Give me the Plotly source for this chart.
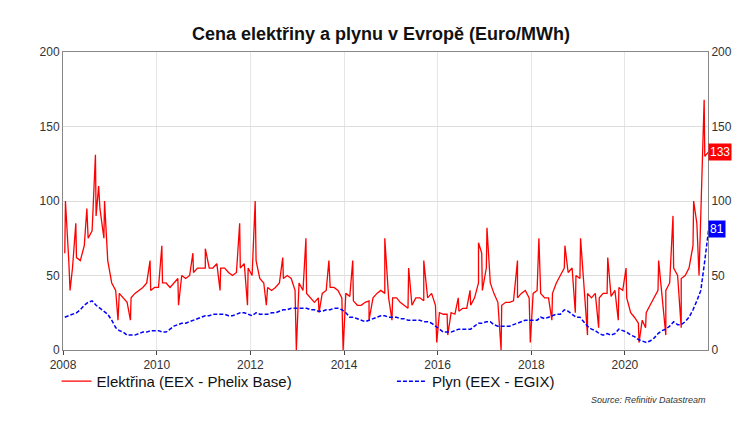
import pandas as pd
import plotly.graph_objects as go

elec = [65,60,55,62,60,70,75,80,90,95,75,60,
        45,40,38,35,32,35,38,40,42,45,40,42,
        42,45,45,42,45,48,50,48,50,52,55,55,
        55,55,55,58,55,55,52,50,52,55,58,55,
        50,60,48,45,42,40,42,45,48,50,48,40,
        45,40,38,35,32,35,38,40,42,42,40,35,
        38,36,33,30,30,32,33,35,38,40,38,35,
        35,35,32,30,28,30,35,35,33,35,38,30,
        25,24,24,25,24,26,28,28,30,35,45,40,
        55,45,38,32,30,32,32,33,35,38,40,35,
        38,40,38,35,35,38,45,50,55,52,55,50,
        48,45,38,35,38,35,38,38,36,40,42,40,
        35,25,22,18,20,25,30,35,40,38,40,45,
        55,50,48,50,55,70,85,90,130,133]
gas = [22,23,24,25,27,30,32,33,30,28,26,24,
       20,15,13,12,10,10,10,11,12,12,13,13,
       13,12,12,14,16,17,18,18,19,20,21,22,
       23,23,24,24,24,24,23,23,24,25,25,24,
       23,25,24,24,24,25,25,26,27,27,28,28,
       28,28,28,27,27,26,26,27,27,28,28,27,
       25,22,22,21,20,19,20,21,22,23,23,22,
       22,22,21,21,20,20,20,20,19,19,18,16,
       14,12,12,12,13,14,14,14,14,16,18,18,
       19,19,17,16,16,16,16,17,18,19,20,20,
       20,20,22,21,22,23,24,24,27,26,24,22,
       22,19,16,14,13,11,10,11,10,11,14,13,
       12,10,9,7,6,5,6,8,11,13,14,16,
       19,17,17,19,22,27,33,40,60,81]
spike_dates = ["2008-01-20","2008-02-25","2008-04-10","2008-07-05","2008-09-10","2008-10-05","2008-11-20","2009-03-05","2009-06-10","2009-11-10",
               "2010-02-10","2010-06-20","2010-10-10","2011-01-15","2011-05-10","2011-10-10","2011-12-10",
               "2012-02-08","2012-05-05","2012-09-10","2012-12-25","2013-03-10","2013-06-20","2013-09-05","2013-12-25",
               "2014-03-10","2014-07-15","2014-11-15","2015-01-10","2015-05-20","2015-09-15","2015-12-25",
               "2016-03-20","2016-06-10","2016-09-10","2016-11-15","2016-12-10","2017-01-20",
               "2017-05-10","2017-09-15","2017-12-24","2018-03-01","2018-06-10","2018-09-20","2018-12-10",
               "2019-01-20","2019-03-15","2019-06-10","2019-08-20","2019-11-10","2020-01-10","2020-04-20","2020-06-10","2020-09-20","2020-11-15",
               "2021-01-10","2021-03-15","2021-06-20","2021-08-01","2021-09-10"]
spike_vals = [100,40,85,95,131,110,100,20,20,60,
              70,30,65,68,40,85,30,
              100,30,62,0,75,25,60,0,
              60,20,75,20,55,60,5,
              10,35,40,72,65,82,
              0,60,5,75,20,70,25,
              75,10,15,62,20,55,5,15,60,10,
              90,15,100,50,168]

months = pd.date_range("2008-01-01", periods=len(elec), freq="MS") + pd.Timedelta(days=14)
e = pd.Series(elec, index=months)
s = pd.Series(spike_vals, index=pd.to_datetime(spike_dates))
e_all = pd.concat([e.iloc[:-1], s, e.iloc[-1:]]).sort_index()
gdates = pd.date_range("2008-01-01", periods=len(gas), freq="MS") + pd.Timedelta(days=14)

fig = go.Figure()
fig.add_trace(go.Scatter(x=e_all.index, y=e_all.values, mode="lines", line=dict(color="#ff0000", width=1.3),
                         name="Elektřina (EEX - Phelix Base)", legend="legend"))
fig.add_trace(go.Scatter(x=gdates, y=gas, mode="lines", line=dict(color="#0000ff", width=1.5, dash="4px,2px"),
                         name="Plyn (EEX - EGIX)", yaxis="y2", legend="legend2"))
lg = dict(orientation="h", y=-0.05, xanchor="left", yanchor="top", font=dict(size=15, color="#111"), bgcolor="rgba(0,0,0,0)")
fig.update_layout(
    width=746, height=421, margin=dict(l=55, r=46, t=44, b=79),
    paper_bgcolor="white", plot_bgcolor="white",
    font=dict(family="Liberation Sans, Arial", size=12, color="#333"),
    title=dict(text="<b>Cena elektřiny a plynu v Evropě (Euro/MWh)</b>", x=0.5, y=0.955, font=dict(size=18, color="#111")),
    xaxis=dict(range=["2008-01-01", "2021-10-10"], tickvals=[f"{y}-01-01" for y in range(2008, 2022, 2)],
               ticktext=[str(y) for y in range(2008, 2022, 2)], showgrid=True, gridcolor="#e6e6e6",
               showline=True, linecolor="#888", mirror=True, ticks="outside", ticklen=4),
    yaxis=dict(range=[0, 200], dtick=50, showgrid=True, gridcolor="#dddddd", showline=True, linecolor="#888"),
    yaxis2=dict(range=[0, 200], dtick=50, overlaying="y", side="right", showgrid=False, showline=True, linecolor="#888"),
    legend=dict(lg, x=-0.01),
    legend2=dict(lg, x=0.51),
    showlegend=True,
)
fig.add_annotation(x=1.0, xref="paper", y=133, yref="y2", text="133", showarrow=False, xanchor="left",
                   bgcolor="#ff0000", font=dict(color="white", size=12), borderpad=1)
fig.add_annotation(x=1.0, xref="paper", y=81, yref="y2", text="81", showarrow=False, xanchor="left",
                   bgcolor="#0000ff", font=dict(color="white", size=12), borderpad=1)
fig.add_annotation(x=1.0, xref="paper", y=-0.19, yref="paper", text="<i>Source: Refinitiv Datastream</i>",
                   showarrow=False, xanchor="right", font=dict(size=9, color="#333"))
fig.write_html("out.html")
